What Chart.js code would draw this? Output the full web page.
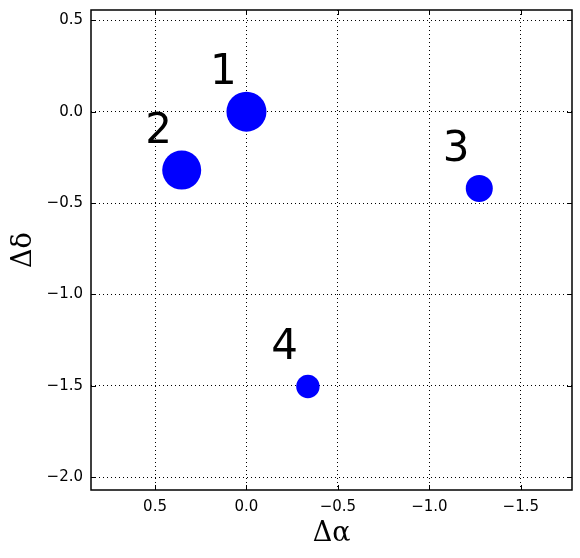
<!DOCTYPE html>
<html>
<head>
<meta charset="utf-8">
<script src="https://cdn.jsdelivr.net/npm/chart.js@4/dist/chart.umd.min.js"></script>
<style>
  html, body { margin: 0; padding: 0; background: #fff; }
  #wrap { width: 580px; height: 558px; }
</style>
</head>
<body>
<div id="wrap"><canvas id="offsetChart" width="580" height="558"></canvas></div>
<script>
// Source offsets
const sourceLabels = ['1', '2', '3', '4'];
const deltaAlpha = [0.0, 0.354, -1.273, -0.336];
const deltaDelta = [0.0, -0.32, -0.42, -1.504];
const pointSizes = [20, 19.5, 13.5, 11.7];

// Tick values
const xTicks = [0.5, 0.0, -0.5, -1.0, -1.5];
const yTicks = [0.5, 0.0, -0.5, -1.0, -1.5, -2.0];

function fmt(v) {
    return v.toFixed(1).replace('-', '\u2212');
}

// Box around the plot and inward tick marks on every side
const framePlugin = {
    id: 'frame',
    afterDraw(chart) {
        const { ctx, chartArea: a, scales } = chart;
        ctx.save();
        ctx.strokeStyle = '#000';
        ctx.lineWidth = 1;
        ctx.beginPath();
        xTicks.forEach(v => {
            const px = Math.round(scales.x.getPixelForValue(v)) + 0.5;
            ctx.moveTo(px, a.bottom); ctx.lineTo(px, a.bottom - 5);
            ctx.moveTo(px, a.top); ctx.lineTo(px, a.top + 5);
        });
        yTicks.forEach(v => {
            const py = Math.round(scales.y.getPixelForValue(v)) + 0.5;
            ctx.moveTo(a.left, py); ctx.lineTo(a.left + 5, py);
            ctx.moveTo(a.right, py); ctx.lineTo(a.right - 5, py);
        });
        ctx.stroke();
        ctx.lineWidth = 1.5;
        ctx.strokeRect(a.left, a.top, a.right - a.left, a.bottom - a.top);
        ctx.restore();
    }
};

// Number labels next to each source
const numberPlugin = {
    id: 'numbers',
    afterDatasetsDraw(chart) {
        const { ctx, scales } = chart;
        ctx.save();
        ctx.fillStyle = '#000';
        ctx.font = '42px "DejaVu Sans"';
        ctx.textAlign = 'left';
        ctx.textBaseline = 'alphabetic';
        sourceLabels.forEach((lab, i) => {
            const px = scales.x.getPixelForValue(deltaAlpha[i] + 0.2);
            const py = scales.y.getPixelForValue(deltaDelta[i] + 0.15);
            ctx.fillText(lab, px, py);
        });
        ctx.restore();
    }
};

const ctx = document.getElementById('offsetChart').getContext('2d');
new Chart(ctx, {
    type: 'bubble',
    data: {
        datasets: [{
            label: 'sources',
            data: deltaAlpha.map((x, i) => ({ x: x, y: deltaDelta[i], r: pointSizes[i] })),
            backgroundColor: '#0000ff',
            borderWidth: 0,
            hoverRadius: 0
        }]
    },
    options: {
        responsive: false,
        animation: false,
        layout: {
            autoPadding: false,
            padding: { top: 10, right: 8, left: 0, bottom: 0 }
        },
        plugins: {
            legend: { display: false },
            tooltip: { enabled: false }
        },
        scales: {
            x: {
                type: 'linear',
                reverse: true,
                min: -1.78,
                max: 0.85,
                afterBuildTicks(axis) {
                    axis.ticks = xTicks.map(v => ({ value: v }));
                },
                afterFit(axis) {
                    axis.height = 68;
                    axis.paddingLeft = 0;
                    axis.paddingRight = 0;
                },
                grid: {
                    color: '#000',
                    lineWidth: 1,
                    drawTicks: false
                },
                border: { display: false, dash: [1, 3] },
                ticks: {
                    color: '#000',
                    padding: 8,
                    font: { family: 'DejaVu Sans', size: 15 },
                    callback: v => fmt(v)
                },
                title: {
                    display: true,
                    text: '\u0394\u03b1',
                    color: '#000',
                    padding: { top: 4, bottom: 8 },
                    font: { family: 'DejaVu Serif', size: 27 }
                }
            },
            y: {
                type: 'linear',
                min: -2.07,
                max: 0.556,
                afterBuildTicks(axis) {
                    axis.ticks = yTicks.map(v => ({ value: v }));
                },
                afterFit(axis) {
                    axis.width = 91;
                    axis.paddingTop = 0;
                    axis.paddingBottom = 0;
                },
                grid: {
                    color: '#000',
                    lineWidth: 1,
                    drawTicks: false
                },
                border: { display: false, dash: [1, 3] },
                ticks: {
                    color: '#000',
                    padding: 8,
                    font: { family: 'DejaVu Sans', size: 15 },
                    callback: v => fmt(v)
                },
                title: {
                    display: true,
                    text: '\u0394\u03b4',
                    color: '#000',
                    padding: { top: 8, bottom: 6 },
                    font: { family: 'DejaVu Serif', size: 27 }
                }
            }
        }
    },
    plugins: [framePlugin, numberPlugin]
});
</script>
</body>
</html>
